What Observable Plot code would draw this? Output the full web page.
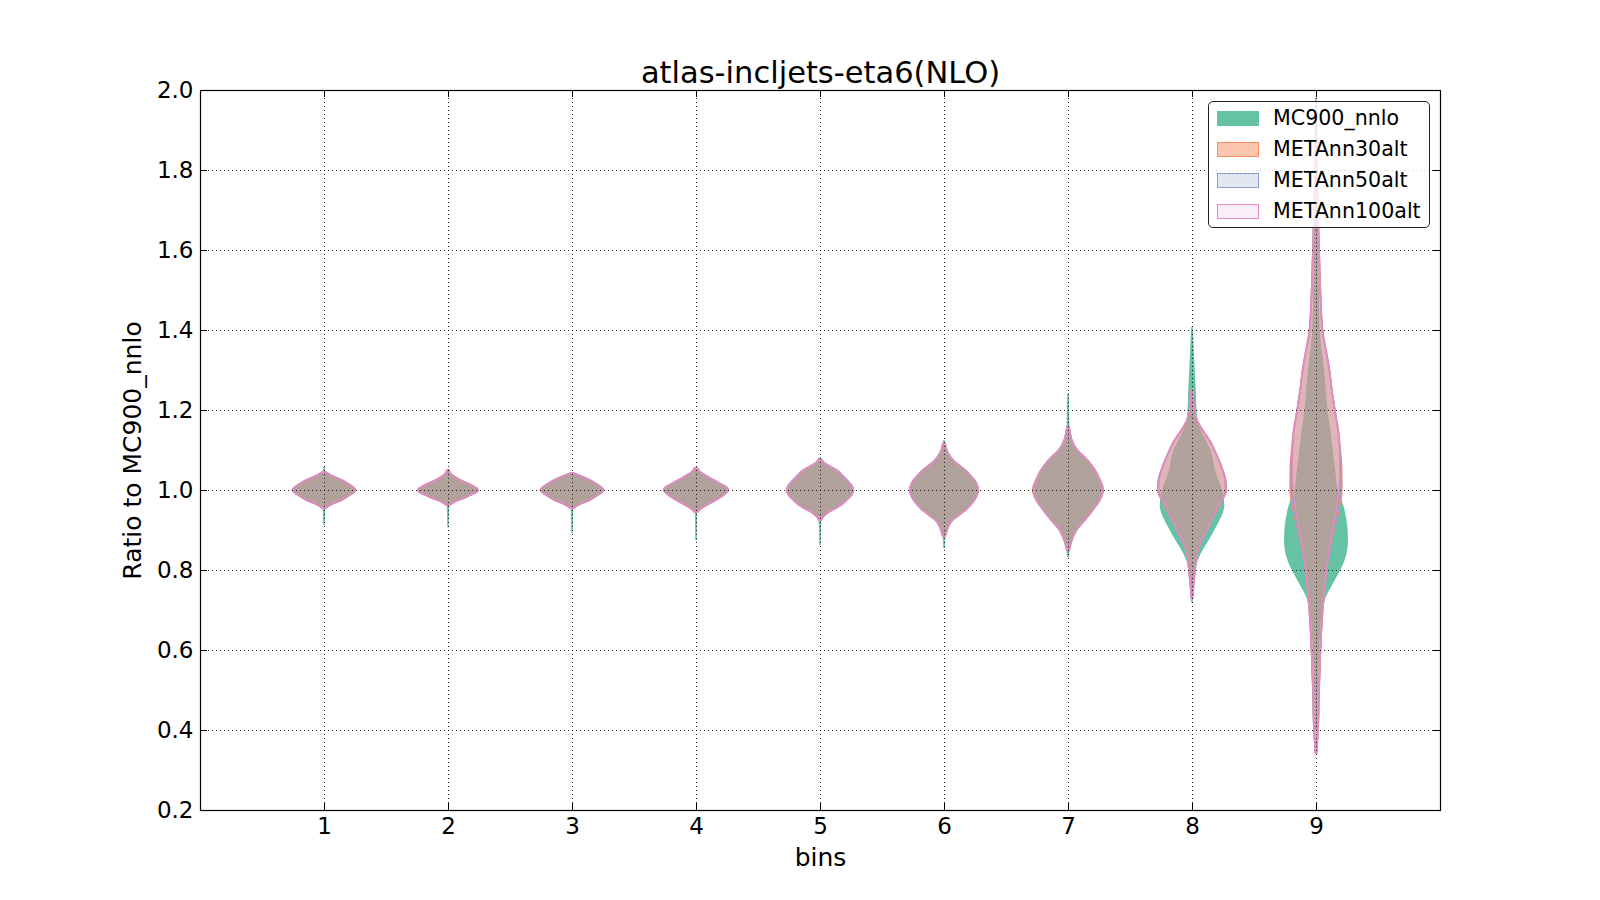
<!DOCTYPE html>
<html>
<head>
<meta charset="utf-8">
<script src="https://cdn.jsdelivr.net/npm/d3@7"></script>
<script src="https://cdn.jsdelivr.net/npm/@observablehq/plot@0.6"></script>
<style>
  html, body { margin: 0; padding: 0; background: white; }
  #fig { position: relative; width: 1600px; height: 900px; font-family: "DejaVu Sans", sans-serif; }
  #legend { position: absolute; left: 1208px; top: 101px; width: 222px; height: 127px;
    border: 1px solid #222; border-radius: 5px; background: rgba(255,255,255,0.82); box-sizing: border-box; }
  .item { position: absolute; left: 8px; height: 20px; display: flex; align-items: center; }
  .sw { width: 42px; height: 15px; box-sizing: border-box; }
  .lab { margin-left: 14px; font-size: 20.6px; color: #000; white-space: nowrap; }
</style>
</head>
<body>
<div id="fig"><div id="legend"></div></div>
<script>
// ---- data ----
const title = "atlas-incljets-eta6(NLO)";
const xLabel = "bins";
const yLabel = "Ratio to MC900_nnlo";
const xTicks = [1, 2, 3, 4, 5, 6, 7, 8, 9];
const yTicks = [0.2, 0.4, 0.6, 0.8, 1.0, 1.2, 1.4, 1.6, 1.8, 2.0];
const seriesNames = ["MC900_nnlo", "METAnn30alt", "METAnn50alt", "METAnn100alt"];

// violin profiles per bin: [ratio, half-width in bin units]
const mc900 = [
  [[0.912,0.006],[0.925,0.007],[0.945,0.008],[0.955,0.015],[0.9625,0.05],[0.975,0.143],[0.9875,0.21],[0.994,0.24],[1.0,0.255],[1.006,0.24],[1.0125,0.21],[1.025,0.143],[1.0375,0.05],[1.045,0.015],[1.05,0.008],[1.058,0.006]],
  [[0.907,0.006],[0.93,0.007],[0.955,0.009],[0.962,0.014],[0.97,0.05],[0.98,0.13],[0.99,0.2],[0.995,0.23],[1.0,0.245],[1.005,0.23],[1.012,0.19],[1.022,0.12],[1.032,0.06],[1.04,0.025],[1.046,0.01],[1.052,0.006]],
  [[0.892,0.006],[0.92,0.007],[0.948,0.009],[0.955,0.015],[0.9625,0.05],[0.975,0.143],[0.9875,0.21],[0.994,0.24],[1.0,0.255],[1.006,0.24],[1.0125,0.21],[1.025,0.143],[1.0375,0.05],[1.045,0.012]],
  [[0.875,0.006],[0.91,0.007],[0.94,0.009],[0.945,0.014],[0.955,0.045],[0.965,0.1],[0.975,0.16],[0.985,0.21],[0.993,0.245],[1.0,0.26],[1.007,0.245],[1.015,0.2],[1.025,0.14],[1.035,0.085],[1.045,0.035],[1.052,0.012],[1.058,0.006]],
  [[0.862,0.006],[0.9,0.007],[0.925,0.012],[0.935,0.03],[0.945,0.07],[0.955,0.13],[0.965,0.18],[0.975,0.215],[0.988,0.255],[1.0,0.27],[1.012,0.255],[1.025,0.215],[1.04,0.17],[1.05,0.135],[1.06,0.08],[1.068,0.035],[1.077,0.012],[1.082,0.006]],
  [[0.855,0.006],[0.875,0.008],[0.89,0.015],[0.9,0.028],[0.913,0.045],[0.925,0.075],[0.937,0.125],[0.95,0.178],[0.963,0.218],[0.975,0.247],[0.988,0.268],[1.0,0.276],[1.012,0.268],[1.025,0.247],[1.037,0.212],[1.05,0.172],[1.062,0.122],[1.075,0.075],[1.088,0.04],[1.1,0.022],[1.115,0.01],[1.125,0.006]],
  [[0.832,0.006],[0.85,0.015],[0.875,0.038],[0.9,0.078],[0.925,0.145],[0.95,0.205],[0.975,0.255],[1.0,0.275],[1.025,0.25],[1.05,0.21],[1.075,0.15],[1.1,0.07],[1.125,0.025],[1.15,0.012],[1.2,0.009],[1.242,0.006]],
  [[0.718,0.006],[0.76,0.012],[0.8,0.025],[0.82,0.042],[0.84,0.068],[0.86,0.105],[0.88,0.145],[0.9,0.18],[0.92,0.215],[0.94,0.245],[0.96,0.26],[0.98,0.256],[1.0,0.242],[1.025,0.212],[1.05,0.185],[1.075,0.17],[1.1,0.15],[1.125,0.11],[1.15,0.068],[1.175,0.045],[1.2,0.036],[1.25,0.03],[1.3,0.022],[1.35,0.015],[1.408,0.006]],
  [[0.4,0.01],[0.5,0.015],[0.6,0.025],[0.7,0.048],[0.72,0.065],[0.74,0.09],[0.76,0.125],[0.78,0.16],[0.8,0.195],[0.82,0.225],[0.84,0.245],[0.86,0.255],[0.88,0.258],[0.9,0.255],[0.92,0.248],[0.94,0.237],[0.96,0.222],[0.98,0.2],[1.0,0.175],[1.05,0.155],[1.1,0.135],[1.15,0.115],[1.2,0.094],[1.3,0.065],[1.4,0.03],[1.5,0.022],[1.6,0.016],[1.7,0.012],[1.8,0.01],[1.9,0.008],[1.98,0.006]]
];
const metann30 = [
  [[0.955,0.012],[0.9625,0.05],[0.975,0.143],[0.9875,0.21],[0.994,0.24],[1.0,0.255],[1.006,0.24],[1.0125,0.21],[1.025,0.143],[1.0375,0.05],[1.045,0.012]],
  [[0.962,0.012],[0.97,0.05],[0.98,0.13],[0.99,0.2],[0.995,0.23],[1.0,0.245],[1.005,0.23],[1.012,0.19],[1.022,0.12],[1.032,0.06],[1.04,0.025],[1.05,0.008]],
  [[0.955,0.012],[0.9625,0.05],[0.975,0.143],[0.9875,0.21],[0.994,0.24],[1.0,0.255],[1.006,0.24],[1.0125,0.21],[1.025,0.143],[1.0375,0.05],[1.042,0.012]],
  [[0.945,0.012],[0.955,0.045],[0.965,0.1],[0.975,0.16],[0.985,0.21],[0.993,0.245],[1.0,0.26],[1.007,0.245],[1.015,0.2],[1.025,0.14],[1.035,0.085],[1.045,0.035],[1.055,0.01]],
  [[0.925,0.01],[0.935,0.03],[0.945,0.07],[0.955,0.13],[0.965,0.18],[0.975,0.215],[0.988,0.255],[1.0,0.27],[1.012,0.25],[1.025,0.21],[1.04,0.165],[1.05,0.13],[1.06,0.075],[1.068,0.035],[1.077,0.01]],
  [[0.883,0.008],[0.9,0.025],[0.913,0.042],[0.925,0.07],[0.937,0.12],[0.95,0.175],[0.963,0.215],[0.975,0.245],[0.988,0.268],[1.0,0.278],[1.012,0.268],[1.025,0.245],[1.037,0.21],[1.05,0.17],[1.062,0.12],[1.075,0.073],[1.088,0.04],[1.1,0.022],[1.117,0.008]],
  [[0.85,0.01],[0.875,0.03],[0.9,0.067],[0.925,0.135],[0.95,0.2],[0.975,0.258],[1.0,0.285],[1.025,0.26],[1.05,0.218],[1.075,0.157],[1.1,0.075],[1.125,0.03],[1.14,0.018],[1.158,0.008]],
  [[0.73,0.005],[0.76,0.012],[0.8,0.025],[0.84,0.04],[0.875,0.08],[0.9,0.12],[0.925,0.16],[0.95,0.203],[0.975,0.245],[1.0,0.277],[1.025,0.272],[1.05,0.248],[1.075,0.217],[1.1,0.182],[1.125,0.14],[1.15,0.085],[1.175,0.04],[1.2,0.018],[1.25,0.007]],
  [[0.342,0.004],[0.4,0.016],[0.5,0.025],[0.6,0.036],[0.7,0.054],[0.8,0.087],[0.85,0.112],[0.9,0.145],[0.95,0.185],[1.0,0.208],[1.05,0.207],[1.1,0.196],[1.15,0.18],[1.2,0.152],[1.25,0.128],[1.3,0.108],[1.35,0.08],[1.4,0.052],[1.5,0.035],[1.6,0.025],[1.7,0.015],[1.8,0.008],[1.9,0.004]]
];
const metann50 = [
  [[0.955,0.012],[0.9625,0.05],[0.975,0.143],[0.9875,0.21],[0.994,0.24],[1.0,0.254],[1.006,0.24],[1.0125,0.21],[1.025,0.145],[1.0375,0.052],[1.045,0.012]],
  [[0.962,0.012],[0.97,0.05],[0.98,0.13],[0.99,0.2],[0.995,0.23],[1.0,0.244],[1.005,0.23],[1.012,0.19],[1.022,0.12],[1.032,0.06],[1.04,0.025],[1.05,0.008]],
  [[0.955,0.012],[0.9625,0.05],[0.975,0.143],[0.9875,0.21],[0.994,0.24],[1.0,0.254],[1.006,0.24],[1.0125,0.21],[1.025,0.145],[1.0375,0.052],[1.042,0.012]],
  [[0.945,0.012],[0.955,0.045],[0.965,0.1],[0.975,0.16],[0.985,0.21],[0.993,0.245],[1.0,0.259],[1.007,0.246],[1.015,0.202],[1.025,0.142],[1.035,0.086],[1.045,0.035],[1.055,0.01]],
  [[0.925,0.01],[0.935,0.03],[0.945,0.07],[0.955,0.13],[0.965,0.18],[0.975,0.215],[0.988,0.255],[1.0,0.27],[1.012,0.255],[1.025,0.218],[1.04,0.172],[1.05,0.135],[1.06,0.078],[1.068,0.035],[1.077,0.01]],
  [[0.883,0.008],[0.9,0.025],[0.913,0.042],[0.925,0.07],[0.937,0.12],[0.95,0.175],[0.963,0.215],[0.975,0.245],[0.988,0.268],[1.0,0.277],[1.012,0.268],[1.025,0.247],[1.037,0.212],[1.05,0.172],[1.062,0.122],[1.075,0.074],[1.088,0.04],[1.1,0.022],[1.117,0.008]],
  [[0.85,0.01],[0.875,0.03],[0.9,0.067],[0.925,0.135],[0.95,0.2],[0.975,0.255],[1.0,0.28],[1.025,0.256],[1.05,0.216],[1.075,0.156],[1.1,0.074],[1.125,0.03],[1.14,0.018],[1.158,0.008]],
  [[0.73,0.005],[0.76,0.012],[0.8,0.025],[0.84,0.04],[0.875,0.08],[0.9,0.12],[0.925,0.16],[0.95,0.2],[0.975,0.242],[1.0,0.273],[1.025,0.269],[1.05,0.246],[1.075,0.216],[1.1,0.181],[1.125,0.14],[1.15,0.085],[1.175,0.04],[1.2,0.018],[1.25,0.007]],
  [[0.342,0.004],[0.4,0.016],[0.5,0.025],[0.6,0.036],[0.7,0.054],[0.8,0.086],[0.85,0.11],[0.9,0.142],[0.95,0.178],[1.0,0.198],[1.05,0.2],[1.1,0.193],[1.15,0.178],[1.2,0.152],[1.25,0.128],[1.3,0.108],[1.35,0.08],[1.4,0.052],[1.5,0.035],[1.6,0.025],[1.7,0.016],[1.8,0.008],[1.9,0.004]]
];
const metann100 = [
  [[0.955,0.012],[0.9625,0.05],[0.975,0.143],[0.9875,0.21],[0.994,0.24],[1.0,0.253],[1.006,0.24],[1.0125,0.21],[1.025,0.143],[1.0375,0.05],[1.045,0.012]],
  [[0.962,0.012],[0.97,0.05],[0.98,0.13],[0.99,0.2],[0.995,0.23],[1.0,0.243],[1.005,0.23],[1.012,0.19],[1.022,0.12],[1.032,0.06],[1.04,0.025],[1.05,0.008]],
  [[0.955,0.012],[0.9625,0.05],[0.975,0.143],[0.9875,0.21],[0.994,0.24],[1.0,0.253],[1.006,0.24],[1.0125,0.21],[1.025,0.143],[1.0375,0.05],[1.042,0.012]],
  [[0.945,0.012],[0.955,0.045],[0.965,0.1],[0.975,0.16],[0.985,0.21],[0.993,0.245],[1.0,0.258],[1.007,0.245],[1.015,0.2],[1.025,0.14],[1.035,0.085],[1.045,0.035],[1.055,0.01]],
  [[0.925,0.01],[0.935,0.03],[0.945,0.07],[0.955,0.13],[0.965,0.18],[0.975,0.215],[0.988,0.255],[1.0,0.268],[1.012,0.25],[1.025,0.21],[1.04,0.165],[1.05,0.13],[1.06,0.075],[1.068,0.035],[1.077,0.01]],
  [[0.883,0.008],[0.9,0.025],[0.913,0.042],[0.925,0.07],[0.937,0.12],[0.95,0.175],[0.963,0.215],[0.975,0.245],[0.988,0.267],[1.0,0.276],[1.012,0.267],[1.025,0.244],[1.037,0.209],[1.05,0.169],[1.062,0.12],[1.075,0.073],[1.088,0.04],[1.1,0.022],[1.117,0.008]],
  [[0.85,0.01],[0.875,0.03],[0.9,0.067],[0.925,0.135],[0.95,0.2],[0.975,0.253],[1.0,0.277],[1.025,0.254],[1.05,0.214],[1.075,0.155],[1.1,0.073],[1.125,0.03],[1.14,0.018],[1.158,0.008]],
  [[0.73,0.005],[0.76,0.012],[0.8,0.025],[0.84,0.04],[0.875,0.08],[0.9,0.12],[0.925,0.16],[0.95,0.198],[0.975,0.238],[1.0,0.268],[1.025,0.266],[1.05,0.244],[1.075,0.214],[1.1,0.18],[1.125,0.14],[1.15,0.085],[1.175,0.04],[1.2,0.018],[1.25,0.007]],
  [[0.342,0.004],[0.4,0.016],[0.5,0.025],[0.6,0.036],[0.7,0.054],[0.8,0.084],[0.85,0.107],[0.9,0.136],[0.95,0.168],[1.0,0.186],[1.05,0.192],[1.1,0.19],[1.15,0.177],[1.2,0.151],[1.25,0.127],[1.3,0.107],[1.35,0.08],[1.4,0.052],[1.5,0.035],[1.6,0.025],[1.7,0.015],[1.8,0.008],[1.9,0.004]]
];

// ---- styles ----
const colors = ["#66c2a5", "#fc8d62", "#8da0cb", "#e78ac3"];
const fillOpacities = [1, 0.5, 0.25, 0.15];
const strokes = ["none", "#fc8d62", "#8da0cb", "#e78ac3"];
const profiles = [mc900, metann30, metann50, metann100];

function rowsFor(profileSet, name) {
  return profileSet.flatMap((prof, i) => prof.map(([v, w]) => ({series: name, bin: xTicks[i], v, w})));
}

const violinMarks = profiles.map((p, k) =>
  Plot.areaX(rowsFor(p, seriesNames[k]), {
    y: "v",
    x1: d => d.bin - d.w,
    x2: d => d.bin + d.w,
    z: "bin",
    fill: colors[k],
    fillOpacity: fillOpacities[k],
    stroke: strokes[k],
    strokeWidth: 1.6,
    curve: "monotone-y"
  })
);

const dots = {stroke: "#000", strokeOpacity: 0.85, strokeWidth: 1, strokeDasharray: "1,3"};
const tickLenX = 0.056;   // ~7px inward
const tickLenY = 0.0175;  // ~7px inward

const chart = Plot.plot({
  width: 1600,
  height: 900,
  marginLeft: 200,
  marginRight: 160,
  marginTop: 90,
  marginBottom: 90,
  style: {fontFamily: "DejaVu Sans", background: "white", color: "black"},
  x: {domain: [0, 10]},
  y: {domain: [0.2, 2.0]},
  marks: [
    ...violinMarks,
    Plot.gridX(xTicks, dots),
    Plot.gridY(yTicks, dots),
    Plot.ruleY(yTicks, {x1: 0, x2: tickLenX, stroke: "black"}),
    Plot.ruleY(yTicks, {x1: 10 - tickLenX, x2: 10, stroke: "black"}),
    Plot.ruleX(xTicks, {y1: 0.2, y2: 0.2 + tickLenY, stroke: "black"}),
    Plot.ruleX(xTicks, {y1: 2.0 - tickLenY, y2: 2.0, stroke: "black"}),
    Plot.axisX(xTicks, {anchor: "bottom", tickSize: 0, tickPadding: 7, fontSize: 23, label: null, tickFormat: d => String(d)}),
    Plot.axisY(yTicks, {anchor: "left", tickSize: 0, tickPadding: 7, fontSize: 23, label: null, tickFormat: d => d.toFixed(1)}),
    Plot.frame({stroke: "black", strokeWidth: 1.2}),
    Plot.text([title], {frameAnchor: "top", lineAnchor: "middle", textAnchor: "middle", dy: -17.5, fontSize: 30.5, fill: "black"}),
    Plot.text([xLabel], {frameAnchor: "bottom", lineAnchor: "middle", textAnchor: "middle", dy: 47, fontSize: 25, fill: "black"}),
    Plot.text([yLabel], {frameAnchor: "left", lineAnchor: "middle", textAnchor: "middle", dx: -68, rotate: -90, fontSize: 25, fill: "black"})
  ]
});
document.getElementById("fig").prepend(chart);

// ---- legend ----
const legend = document.getElementById("legend");
const itemTops = [6, 37, 68, 99];
seriesNames.forEach((name, k) => {
  const item = document.createElement("div");
  item.className = "item";
  item.style.top = itemTops[k] + "px";
  const sw = document.createElement("div");
  sw.className = "sw";
  const c = d3.color(colors[k]); c.opacity = fillOpacities[k];
  sw.style.background = c.formatRgb();
  sw.style.border = k === 0 ? "none" : "1.5px solid " + strokes[k];
  const lab = document.createElement("span");
  lab.className = "lab";
  lab.textContent = name;
  item.append(sw, lab);
  legend.append(item);
});
</script>
</body>
</html>
